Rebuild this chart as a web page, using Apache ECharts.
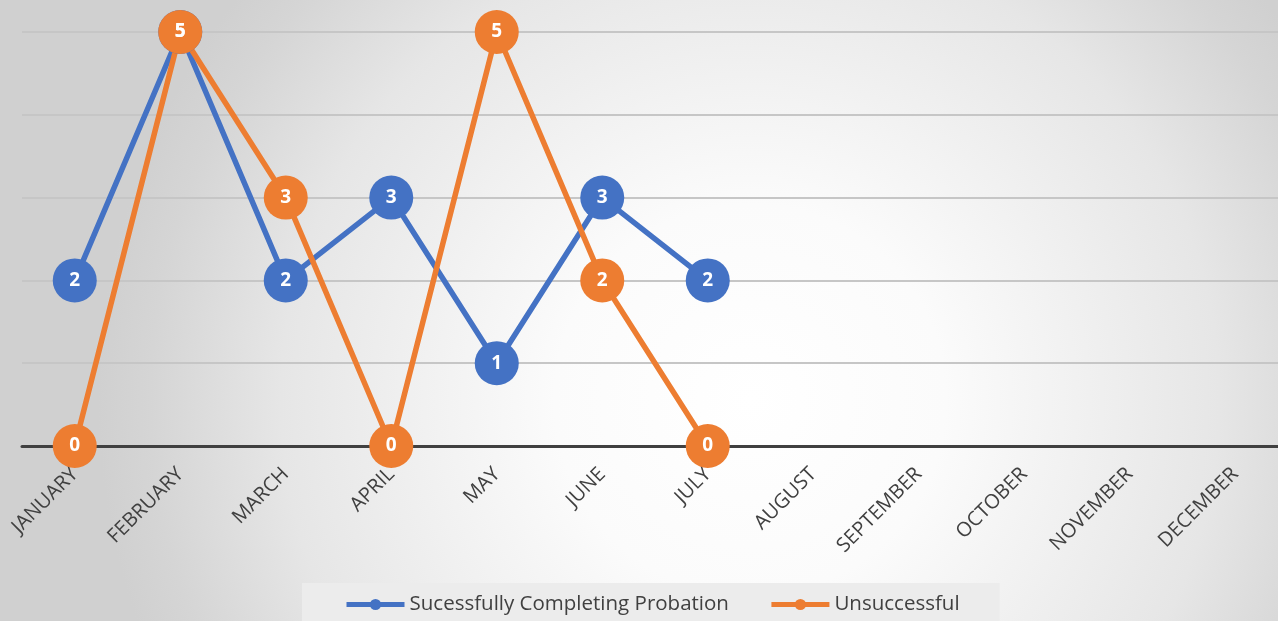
<!DOCTYPE html>
<html><head><meta charset="utf-8">
<script src="https://cdn.jsdelivr.net/npm/echarts@6/dist/echarts.min.js"></script>
<style>html,body{margin:0;padding:0;}#c{width:1278px;height:621px;}</style>
</head><body><div id="c"></div>
<script>
const months = ['JANUARY','FEBRUARY','MARCH','APRIL','MAY','JUNE','JULY','AUGUST','SEPTEMBER','OCTOBER','NOVEMBER','DECEMBER'];
const successful = [2,5,2,3,1,3,2,null,null,null,null,null];
const unsuccessful = [0,5,3,0,5,2,0,null,null,null,null,null];
const seriesNames = ['Sucessfully Completing Probation','Unsuccessful'];
const colors = ['#4472C4','#ED7D31'];

const chart = echarts.init(document.getElementById('c'), null, {renderer:'canvas'});
function mk(name, data, color){
  return {
    name, type:'line', data, color,
    symbol:'circle', symbolSize:44,
    lineStyle:{width:5.5,color},
    itemStyle:{color},
    label:{show:true, position:'inside', color:'#fff', fontSize:19, fontWeight:'bold', fontFamily:'Open Sans'},
    emphasis:{disabled:true},
    animation:false
  };
}
chart.setOption({
  backgroundColor:{type:'radial', x:0.587, y:0.644, r:1.05,
    colorStops:[{offset:0,color:'#ffffff'},{offset:0.3,color:'#fbfbfb'},{offset:0.72,color:'#e6e6e6'},{offset:0.92,color:'#d5d5d5'},{offset:1,color:'#d0d0d0'}]},
  animation:false,
  grid:{left:22, top:32, width:1266, height:414, outerBoundsMode:'none', containLabel:false},
  legend:{
    top:583, left:302, backgroundColor:'#ececec', padding:[11,40,14,42],
    itemWidth:58, itemHeight:14, itemGap:40,
    lineStyle:{width:5},
    textStyle:{fontFamily:'Open Sans', fontSize:20.5, color:'#404040'},
    data:seriesNames
  },
  xAxis:{type:'category', data:months, boundaryGap:true,
    axisLine:{lineStyle:{color:'#404040', width:3}},
    axisTick:{show:false},
    axisLabel:{rotate:45, interval:0, fontFamily:'Open Sans', fontSize:20, color:'#404040', margin:25}
  },
  yAxis:{type:'value', min:0, max:5, interval:1,
    axisLine:{show:false}, axisTick:{show:false}, axisLabel:{show:false},
    splitLine:{lineStyle:{color:'#c6c6c6', width:2}}
  },
  series:[mk(seriesNames[0], successful, colors[0]), mk(seriesNames[1], unsuccessful, colors[1])]
});
</script></body></html>
